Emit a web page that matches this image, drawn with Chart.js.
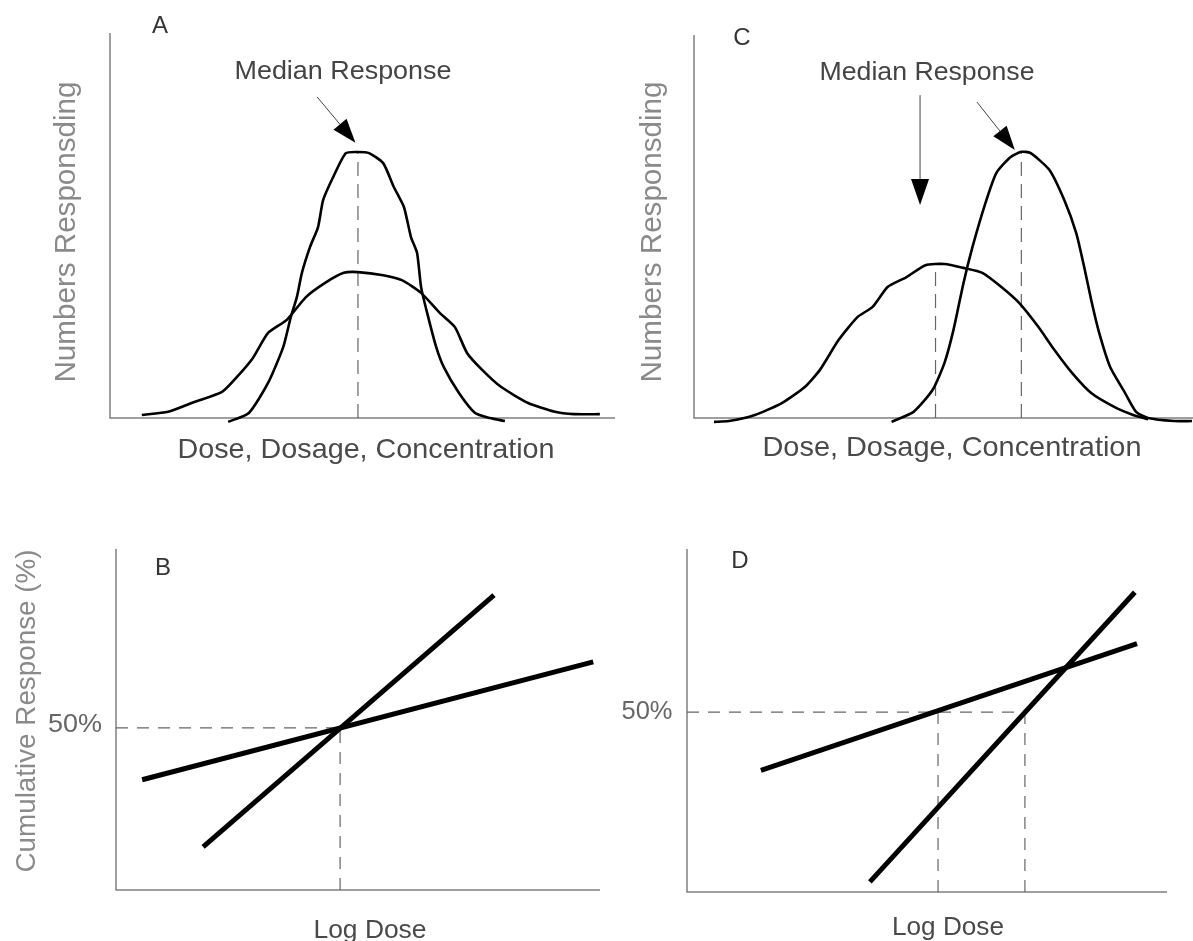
<!DOCTYPE html>
<html>
<head>
<meta charset="utf-8">
<script src="https://cdn.jsdelivr.net/npm/chart.js@4.4.1/dist/chart.umd.min.js"></script>
<style>
  html, body { margin: 0; padding: 0; background: #fff; }
  #wrap { position: relative; width: 1193px; height: 941px; overflow: hidden; }
  #wrap canvas { position: absolute; }
</style>
</head>
<body>
<div id="wrap">
  <canvas id="pA" width="620" height="480" style="left:0;top:0"></canvas>
  <canvas id="pC" width="593" height="480" style="left:600px;top:0"></canvas>
  <canvas id="pB" width="620" height="461" style="left:0;top:480px"></canvas>
  <canvas id="pD" width="593" height="461" style="left:600px;top:480px"></canvas>
</div>
<script>
// ---- data (arbitrary dose / response units) ----
// Panel A: two distributions sharing the same median
const aNarrowDose  = [23.4, 27.5, 31.3, 34.3, 35.8, 37.0, 38.0, 39.6, 41.2, 42.2, 44.2, 46.7, 49.1, 51.3, 54.1, 56.2, 58.2, 59.6, 60.8, 61.6, 62.8, 64.6, 66.1, 69.1, 72.3, 75.2, 78.2];
const aNarrowCount = [-1.0, 1.3, 9.1, 18.4, 26.2, 31.4, 37.7, 44.4, 49.6, 56.6, 62.6, 68.8, 69.1, 68.8, 66.2, 60.0, 54.8, 47.0, 42.9, 34.0, 27.3, 18.4, 13.2, 6.5, 1.3, 0.0, -0.8];
const aBroadDose   = [6.3, 11.5, 16.8, 22.2, 25.1, 28.3, 31.3, 35.0, 38.8, 42.6, 46.3, 49.1, 54.1, 57.8, 61.6, 65.3, 68.3, 70.7, 73.7, 77.4, 82.8, 88.1, 91.9, 97.0];
const aBroadCount  = [0.8, 1.6, 4.2, 6.8, 10.6, 15.6, 22.1, 25.5, 31.4, 35.1, 37.7, 37.9, 37.1, 35.8, 32.5, 27.3, 23.6, 16.9, 12.5, 8.1, 3.9, 1.6, 1.0, 1.0];
const aMedian = 49.1;

// Panel C: two distributions with different medians
const cNarrowDose  = [39.6, 44.0, 47.8, 50.2, 52.0, 54.0, 55.8, 58.4, 60.6, 63.4, 65.6, 67.4, 71.2, 74.2, 76.6, 78.2, 79.6, 81.2, 83.4, 86.4, 88.6, 91.0, 96.2, 99.8];
const cNarrowCount = [-1.0, 1.6, 7.3, 14.4, 23.0, 35.2, 44.6, 56.1, 64.0, 68.1, 69.5, 69.2, 64.8, 56.9, 48.3, 39.4, 30.8, 22.2, 13.3, 6.5, 1.6, 0.0, -0.8, -0.8];
const cBroadDose   = [4.0, 7.0, 12.2, 17.6, 22.2, 25.2, 29.0, 32.8, 35.8, 38.8, 42.6, 46.4, 50.2, 54.0, 57.8, 61.6, 65.2, 69.0, 72.2, 75.8, 79.6, 84.2, 88.0, 91.0];
const cBroadCount  = [-1.0, -0.8, 0.8, 3.9, 8.1, 12.5, 20.4, 26.4, 29.0, 34.2, 36.8, 39.9, 40.2, 39.2, 37.9, 34.2, 30.0, 23.8, 17.8, 11.7, 6.5, 2.9, 0.8, -0.3];
const cMedians = [48.4, 65.6];
const cMedianPeaks = [40.2, 69.5];

// Panel B: cumulative response vs log dose, same ED50
const bSteepLogDose   = [1.80, 7.81];
const bSteepResp      = [13.3, 91.0];
const bShallowLogDose = [0.54, 9.86];
const bShallowResp    = [34.0, 70.4];
const bMedian = 4.63;

// Panel D: cumulative response vs log dose, different ED50
const dSteepLogDose   = [3.81, 9.33];
const dSteepResp      = [2.8, 83.3];
const dShallowLogDose = [1.54, 9.375];
const dShallowResp    = [33.8, 69.0];
const dMedians = [5.23, 7.04];

const yTickLabels = ["50%"];
const yTickValues = [50];

// ---- drawing helpers ----
const FONT = '"Liberation Sans", Arial, Helvetica, sans-serif';

function pts(xs, ys) { return xs.map((x, i) => ({ x, y: ys[i] })); }

function curve(xs, ys, width, tension) {
  return { data: pts(xs, ys), showLine: true, borderColor: "#000", borderWidth: width,
           pointRadius: 0, tension: tension, clip: false, fill: false };
}

function dashed(xs, ys, dash) {
  return { data: pts(xs, ys), showLine: true, borderColor: "#666", borderWidth: 1.2,
           borderDash: dash, pointRadius: 0, tension: 0, clip: false, fill: false };
}

function text(ctx, t, x, y, size, color, width, rot) {
  ctx.save();
  ctx.font = size + "px " + FONT;
  ctx.fillStyle = color;
  ctx.textAlign = "center";
  ctx.textBaseline = "alphabetic";
  ctx.translate(x, y);
  if (rot) ctx.rotate(rot);
  if (width) ctx.scale(width / ctx.measureText(t).width, 1);
  ctx.fillText(t, 0, 0);
  ctx.restore();
}

function arrow(ctx, x0, y0, x1, y1, len, w) {
  const a = Math.atan2(y1 - y0, x1 - x0);
  const bx = x1 - len * Math.cos(a), by = y1 - len * Math.sin(a);
  ctx.save();
  ctx.strokeStyle = "#444"; ctx.lineWidth = 1;
  ctx.beginPath(); ctx.moveTo(x0, y0); ctx.lineTo(bx, by); ctx.stroke();
  ctx.fillStyle = "#000";
  ctx.beginPath();
  ctx.moveTo(x1, y1);
  ctx.lineTo(bx + (w / 2) * Math.sin(a), by - (w / 2) * Math.cos(a));
  ctx.lineTo(bx - (w / 2) * Math.sin(a), by + (w / 2) * Math.cos(a));
  ctx.closePath(); ctx.fill();
  ctx.restore();
}

function axes(ctx, ca, extendRight) {
  ctx.save();
  ctx.strokeStyle = "#808080"; ctx.lineWidth = 1.5;
  ctx.beginPath();
  ctx.moveTo(ca.left, ca.top); ctx.lineTo(ca.left, ca.bottom);
  ctx.lineTo(ca.right + (extendRight || 0), ca.bottom);
  ctx.stroke();
  ctx.restore();
}

function panel(id, pad, xr, yr, datasets, decorate) {
  return new Chart(document.getElementById(id), {
    type: "scatter",
    data: { datasets },
    options: {
      responsive: false, animation: false, devicePixelRatio: 1, events: [],
      layout: { padding: pad },
      plugins: { legend: { display: false }, tooltip: { enabled: false } },
      scales: {
        x: { type: "linear", display: false, min: xr[0], max: xr[1] },
        y: { type: "linear", display: false, min: yr[0], max: yr[1] }
      }
    },
    plugins: [{
      id: "deco-" + id,
      beforeDatasetsDraw(chart) { axes(chart.ctx, chart.chartArea); },
      afterDraw(chart) { decorate(chart.ctx, chart.scales.x, chart.scales.y); }
    }]
  });
}

// ---- Panel A ----
panel("pA", { left: 110, top: 33, right: 5, bottom: 62 }, [0, 100], [0, 100], [
  curve(aNarrowDose, aNarrowCount, 2.6, 0.2),
  curve(aBroadDose, aBroadCount, 2.6, 0.2),
  dashed([aMedian, aMedian], [0, Math.max(...aNarrowCount)], [14, 8])
], (ctx, x, y) => {
  text(ctx, "A", 160, 33, 24, "#333");
  text(ctx, "Median Response", 343, 79, 25, "#444", 217);
  text(ctx, "Numbers Responsding", 75, 232, 29, "#8a8a8a", 301, -Math.PI / 2);
  text(ctx, "Dose, Dosage, Concentration", 366, 458, 28, "#4a4a4a", 377);
  arrow(ctx, x.getPixelForValue(41.0), y.getPixelForValue(83.4),
             x.getPixelForValue(48.6), y.getPixelForValue(71.5), 24, 17);
});

// ---- Panel C ----
panel("pC", { left: 94, top: 35, right: 0, bottom: 62 }, [0, 100], [0, 100], [
  curve(cNarrowDose, cNarrowCount, 2.6, 0.2),
  curve(cBroadDose, cBroadCount, 2.6, 0.2),
  dashed([cMedians[0], cMedians[0]], [0, cMedianPeaks[0]], [14, 8]),
  dashed([cMedians[1], cMedians[1]], [0, cMedianPeaks[1]], [14, 8])
], (ctx, x, y) => {
  text(ctx, "C", 142, 45, 24, "#333");
  text(ctx, "Median Response", 327, 80, 25, "#444", 215);
  text(ctx, "Numbers Responsding", 61, 232, 29, "#8a8a8a", 301, -Math.PI / 2);
  text(ctx, "Dose, Dosage, Concentration", 352, 456, 28, "#4a4a4a", 379);
  arrow(ctx, x.getPixelForValue(45.3), y.getPixelForValue(84.3),
             x.getPixelForValue(45.3), y.getPixelForValue(55.6), 26, 18);
  arrow(ctx, x.getPixelForValue(56.7), y.getPixelForValue(82.5),
             x.getPixelForValue(64.3), y.getPixelForValue(70.0), 24, 17);
});

// ---- Panel B ----
panel("pB", { left: 116, top: 69, right: 20, bottom: 51 }, [0, 10], [0, 105.2], [
  curve(bSteepLogDose, bSteepResp, 5, 0),
  curve(bShallowLogDose, bShallowResp, 5, 0),
  dashed([0, bMedian], [yTickValues[0], yTickValues[0]], [12, 9]),
  dashed([bMedian, bMedian], [0, yTickValues[0]], [12, 9])
], (ctx, x, y) => {
  text(ctx, "B", 163, 95, 24, "#333");
  text(ctx, "Cumulative Response (%)", 35, 231, 28, "#8a8a8a", 323, -Math.PI / 2);
  text(ctx, "Log Dose", 370, 458, 26, "#4a4a4a", 113);
  yTickValues.forEach((v, i) => text(ctx, yTickLabels[i], 75, y.getPixelForValue(v) + 4, 26, "#666", 54));
});

// ---- Panel D ----
panel("pD", { left: 87, top: 69, right: 26, bottom: 49 }, [0, 10], [0, 95.3], [
  curve(dSteepLogDose, dSteepResp, 5, 0),
  curve(dShallowLogDose, dShallowResp, 5, 0),
  dashed([0, dMedians[1]], [yTickValues[0], yTickValues[0]], [12, 9]),
  dashed([dMedians[0], dMedians[0]], [0, yTickValues[0]], [12, 9]),
  dashed([dMedians[1], dMedians[1]], [0, yTickValues[0]], [12, 9])
], (ctx, x, y) => {
  text(ctx, "D", 140, 88, 24, "#333");
  text(ctx, "Log Dose", 348, 455, 26, "#4a4a4a", 112);
  yTickValues.forEach((v, i) => text(ctx, yTickLabels[i], 47, y.getPixelForValue(v) + 7, 26, "#666", 51));
});
</script>
</body>
</html>
